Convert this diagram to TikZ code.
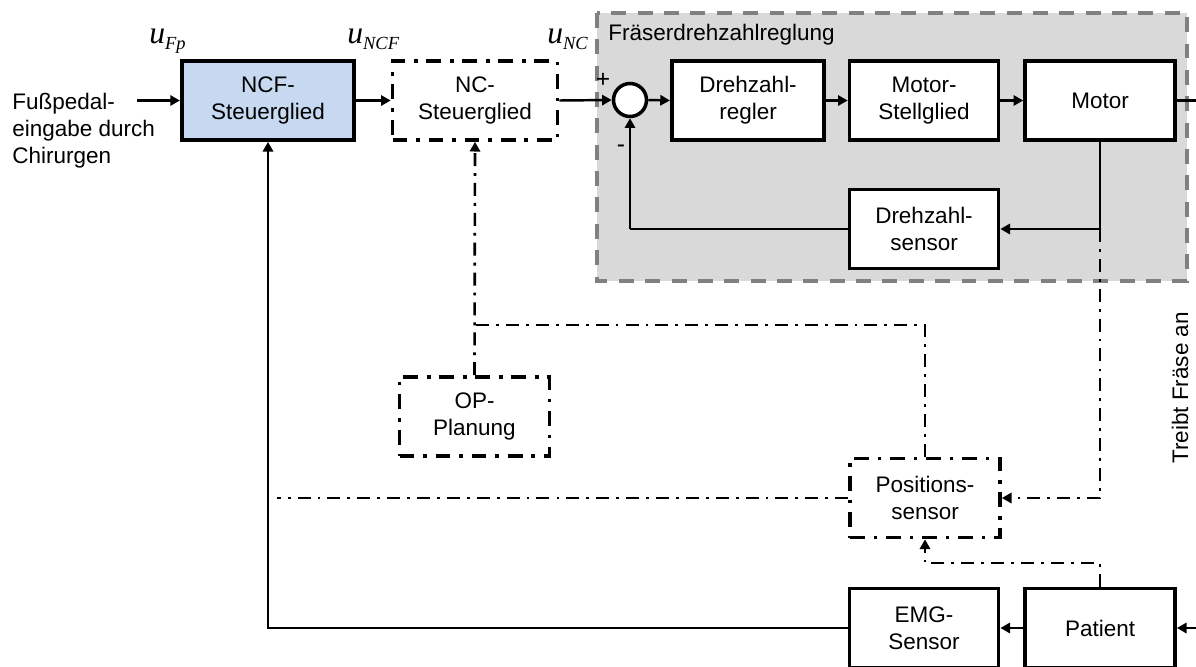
\documentclass[tikz,border=0pt]{standalone}
\usepackage{fontspec}
\setmainfont{Liberation Sans}
\newfontfamily\tmsfont{Liberation Serif}
\usetikzlibrary{arrows.meta}
\newcommand\ulab[1]{{\tmsfont\itshape\fontsize{18}{18}\selectfont u}\raisebox{-3.6pt}{\tmsfont\itshape\fontsize{10.5}{11}\selectfont #1}}
\definecolor{ncfblue}{RGB}{198,217,240}
\definecolor{boxgray}{RGB}{217,217,217}
\definecolor{bordergray}{RGB}{128,128,128}
\tikzset{
  txt/.style={font=\fontsize{12.8}{15.3}\selectfont, align=center},
  blk/.style={txt, draw, line width=2.1pt, fill=white, minimum width=3.0cm, minimum height=1.58cm, inner sep=1pt},
  ddblk/.style={txt, draw, line width=2.1pt, minimum width=3.0cm, minimum height=1.58cm, inner sep=1pt,
     dash pattern=on 8.5pt off 5pt on 2pt off 5pt},
  con/.style={line width=1.4pt},
  dd/.style={line width=1.5pt, dash pattern=on 7.4pt off 4pt on 1.6pt off 4pt},
  arr/.style={-{Triangle[length=5.5pt,width=5.8pt]}},
}
\begin{document}
\begin{tikzpicture}[x=0.02cm,y=-0.02cm]
\useasboundingbox (0,0) rectangle (1196,666);
% grey frame
\draw[fill=boxgray, draw=bordergray, line width=1.8pt, dash pattern=on 8.5pt off 6.5pt]
  (597,13) rectangle (1187,281);
\node[txt, anchor=base west, inner sep=0] (title) at (608,40) {Fräserdrehzahlreglung};

% blocks
\node[blk, fill=ncfblue, minimum width=3.45cm] (ncf) at (268,100.5) {NCF-\\Steuerglied};
\node[ddblk, minimum width=3.3cm] (nc) at (475,100.5) {NC-\\Steuerglied};
\node[draw, circle, fill=white, line width=2pt, minimum size=0.66cm, inner sep=0] (sum) at (630,100) {};
\node[blk, minimum width=3.05cm] (dreg) at (748,100.5) {Drehzahl-\\regler};
\node[blk, minimum width=2.98cm] (mst) at (924,100.5) {Motor-\\Stellglied};
\node[blk, minimum width=3.0cm] (mot) at (1100,100.5) {Motor};
\node[blk, minimum width=2.98cm] (dsen) at (924,229) {Drehzahl-\\sensor};
\node[ddblk, minimum width=3.0cm] (op) at (474.5,416.5) {OP-\\Planung};
\node[ddblk, minimum width=3.0cm] (pos) at (925,498) {Positions-\\sensor};
\node[blk, minimum width=2.98cm] (emg) at (924,628) {EMG-\\Sensor};
\node[blk, minimum width=3.0cm] (pat) at (1100,628) {Patient};

% texts
\node[txt, align=left, anchor=west, inner sep=0] (fuss) at (12,131) {Fußpedal-\\eingabe durch\\Chirurgen};
\node[anchor=base west, inner sep=0] (ufp) at (149,43) {\ulab{Fp}};
\node[anchor=base west, inner sep=0] (uncf) at (347,43) {\ulab{NCF}};
\node[anchor=base west, inner sep=0] (unc) at (547,43) {\ulab{NC}};
\node[txt, inner sep=0, font=\fontsize{14}{14}\selectfont] (plus) at (603,80) {+};
\node[txt, inner sep=0, font=\fontsize{14}{14}\selectfont] (minus) at (621,149) {-};
\node[txt, rotate=90, inner sep=0] (treibt) at (1180,388) {Treibt Fräse an};

% coordinates
\coordinate (fin) at (137,100.5);
\coordinate (mout) at (1200,100.5);
\coordinate (pin) at (1200,628);
\coordinate (tap) at (1100,229);
\coordinate (fb) at (630,229);
\coordinate (jop) at (474.5,325);
\coordinate (plend) at (277,498);
\coordinate (emgc) at (268,628);
\coordinate (pt) at (1100,563);

% solid connectors
\draw[con,arr] (fin) -- (ncf.west);
\draw[con,arr] (ncf.east) -- (nc.west);
\draw[con,arr] (nc.east) -- (sum.west);
\draw[con,arr] (sum.east) -- (dreg.west);
\draw[con,arr] (dreg.east) -- (mst.west);
\draw[con,arr] (mst.east) -- (mot.west);
\draw[con] (mot.east) -- (mout);
\draw[con] (mot.south) -- (tap);
\draw[con,arr] (tap) -- (dsen.east);
\draw[con] (dsen.west) -- (fb);
\draw[con,arr] (fb) -- (sum.south);
\draw[con,arr] (emg.west) -- (emgc) -- (ncf.south);
\draw[con,arr] (pat.west) -- (emg.east);
\draw[con,arr] (pin) -- (pat.east);

% dash-dot connectors
\draw[dd,arr] (tap) |- (pos.east);
\draw[dd,arr] (op.north) -- (nc.south);
\draw[dd] (pos.north) |- (jop);
\draw[dd] (pos.west) -- (plend);
\draw[dd,arr] (pat.north) |- (pos.south |- pt) -- (pos.south);
\end{tikzpicture}
\end{document}
